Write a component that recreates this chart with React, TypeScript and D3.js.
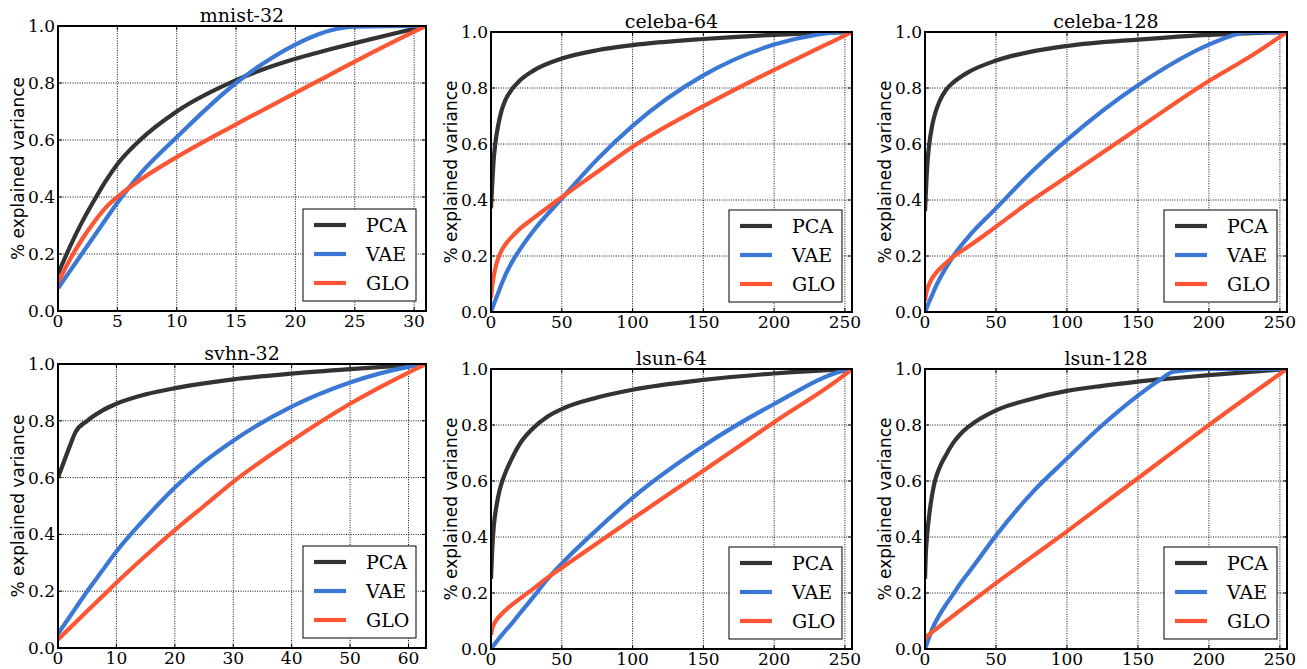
import React, { useEffect } from "react";
import * as d3 from "d3";

// ---- data ----
const seriesNames = ["PCA", "VAE", "GLO"];
const seriesColors = ["#333333", "#3b78d6", "#fc5634"];
const yTicks = [0.0, 0.2, 0.4, 0.6, 0.8, 1.0];

const mnistX = [0, 1, 2, 3, 4, 5, 7, 10, 15, 20, 22, 23, 25, 30, 31];
const mnistPCA = [0.13, 0.225, 0.31, 0.385, 0.455, 0.515, 0.603, 0.7, 0.81, 0.885, 0.908, 0.919, 0.94, 0.99, 1.0];
const mnistVAE = [0.08, 0.14, 0.2, 0.26, 0.32, 0.38, 0.485, 0.61, 0.8, 0.935, 0.972, 0.985, 0.998, 1.0, 1.0];
const mnistGLO = [0.1, 0.18, 0.25, 0.31, 0.362, 0.4, 0.462, 0.54, 0.655, 0.765, 0.809, 0.831, 0.875, 0.98, 1.0];

const celeba64X = [0, 1, 2, 3, 5, 7.5, 10, 15, 20, 30, 50, 75, 100, 150, 200, 230, 240, 255];
const celeba64PCA = [0.37, 0.47, 0.55, 0.6, 0.665, 0.72, 0.755, 0.797, 0.825, 0.862, 0.905, 0.935, 0.953, 0.975, 0.99, 0.996, 0.998, 1.0];
const celeba64VAE = [0.0, 0.014, 0.028, 0.041, 0.067, 0.1, 0.13, 0.18, 0.22, 0.29, 0.405, 0.545, 0.665, 0.845, 0.955, 0.99, 0.997, 1.0];
const celeba64GLO = [0.05, 0.1, 0.13, 0.155, 0.19, 0.22, 0.24, 0.27, 0.295, 0.335, 0.41, 0.5, 0.59, 0.735, 0.865, 0.939, 0.963, 1.0];

const celeba128X = [0, 1, 2, 3, 5, 7.5, 10, 15, 20, 30, 50, 75, 100, 150, 200, 220, 225, 255];
const celeba128PCA = [0.36, 0.47, 0.55, 0.6, 0.665, 0.715, 0.75, 0.795, 0.82, 0.855, 0.898, 0.93, 0.95, 0.973, 0.99, 0.994, 0.995, 1.0];
const celeba128VAE = [0.0, 0.012, 0.025, 0.037, 0.06, 0.09, 0.115, 0.16, 0.2, 0.265, 0.37, 0.5, 0.615, 0.81, 0.955, 0.993, 0.999, 1.0];
const celeba128GLO = [0.04, 0.07, 0.088, 0.1, 0.12, 0.138, 0.152, 0.176, 0.198, 0.232, 0.305, 0.398, 0.483, 0.655, 0.825, 0.885, 0.9, 1.0];

const svhnX = [0, 1, 2, 3, 5, 7.5, 10, 15, 20, 25, 30, 40, 50, 60, 63];
const svhnPCA = [0.6, 0.655, 0.71, 0.76, 0.8, 0.835, 0.86, 0.893, 0.915, 0.932, 0.946, 0.966, 0.982, 0.996, 1.0];
const svhnVAE = [0.05, 0.08, 0.11, 0.14, 0.2, 0.27, 0.34, 0.458, 0.565, 0.655, 0.73, 0.85, 0.935, 0.99, 1.0];
const svhnGLO = [0.03, 0.05, 0.07, 0.09, 0.13, 0.18, 0.23, 0.325, 0.415, 0.5, 0.585, 0.73, 0.86, 0.97, 1.0];

const lsun64X = [0, 1, 2, 4, 6, 8, 11, 14, 20, 29, 40, 50, 75, 100, 150, 200, 250, 255];
const lsun64PCA = [0.25, 0.37, 0.44, 0.515, 0.565, 0.6, 0.64, 0.673, 0.73, 0.785, 0.83, 0.857, 0.898, 0.926, 0.961, 0.984, 0.999, 1.0];
const lsun64VAE = [0.0, 0.007, 0.014, 0.027, 0.04, 0.052, 0.07, 0.087, 0.125, 0.18, 0.25, 0.305, 0.427, 0.54, 0.725, 0.875, 0.995, 1.0];
const lsun64GLO = [0.05, 0.075, 0.088, 0.105, 0.117, 0.128, 0.142, 0.155, 0.178, 0.212, 0.255, 0.29, 0.378, 0.465, 0.637, 0.81, 0.98, 1.0];

const lsun128X = [0, 0.5, 1.4, 3, 5, 7, 10, 15, 20, 25, 31, 50, 75, 100, 125, 150, 165, 175, 200, 255];
const lsun128PCA = [0.25, 0.33, 0.4, 0.48, 0.55, 0.6, 0.645, 0.695, 0.737, 0.768, 0.795, 0.852, 0.893, 0.922, 0.94, 0.955, 0.963, 0.967, 0.978, 1.0];
const lsun128VAE = [0.0, 0.007, 0.02, 0.043, 0.07, 0.092, 0.12, 0.16, 0.197, 0.235, 0.275, 0.405, 0.556, 0.68, 0.8, 0.905, 0.96, 0.99, 1.0, 1.0];
const lsun128GLO = [0.03, 0.038, 0.045, 0.052, 0.06, 0.068, 0.08, 0.1, 0.119, 0.139, 0.162, 0.235, 0.328, 0.42, 0.515, 0.61, 0.667, 0.705, 0.8, 1.0];

const panels = [
  { title: "mnist-32", xMax: 31, xTicks: [0, 5, 10, 15, 20, 25, 30], x: mnistX, ys: [mnistPCA, mnistVAE, mnistGLO] },
  { title: "celeba-64", xMax: 255, xTicks: [0, 50, 100, 150, 200, 250], x: celeba64X, ys: [celeba64PCA, celeba64VAE, celeba64GLO] },
  { title: "celeba-128", xMax: 255, xTicks: [0, 50, 100, 150, 200, 250], x: celeba128X, ys: [celeba128PCA, celeba128VAE, celeba128GLO] },
  { title: "svhn-32", xMax: 63, xTicks: [0, 10, 20, 30, 40, 50, 60], x: svhnX, ys: [svhnPCA, svhnVAE, svhnGLO] },
  { title: "lsun-64", xMax: 255, xTicks: [0, 50, 100, 150, 200, 250], x: lsun64X, ys: [lsun64PCA, lsun64VAE, lsun64GLO] },
  { title: "lsun-128", xMax: 255, xTicks: [0, 50, 100, 150, 200, 250], x: lsun128X, ys: [lsun128PCA, lsun128VAE, lsun128GLO] },
];

// plot rectangles (left, top, right, bottom) in page pixels
const boxes = [
  [58, 26, 426, 311],
  [491, 32, 852, 312],
  [925, 32, 1287, 312],
  [58, 364, 426, 648],
  [491, 369, 852, 649],
  [925, 369, 1287, 649],
];

const serif = "'DejaVu Serif', serif";
const sans = "'DejaVu Sans', sans-serif";

function Panel({ p, box }: { p: (typeof panels)[number]; box: number[] }) {
  const [l, t, r, b] = box;
  const x = d3.scaleLinear().domain([0, p.xMax]).range([l, r]);
  const y = d3.scaleLinear().domain([0, 1]).range([b, t]);
  const line = d3
    .line<[number, number]>()
    .x((d) => x(d[0]))
    .y((d) => y(d[1]))
    .curve(d3.curveMonotoneX);

  const lgW = 113, lgH = 92;
  const lgX = r - 10 - lgW, lgY = b - 10 - lgH;
  const clipId = "clip-" + p.title;
  const grid = { stroke: "#111", strokeWidth: 1, strokeDasharray: "1,1.4" };

  return (
    <g>
      <defs>
        <clipPath id={clipId}>
          <rect x={l} y={t} width={r - l} height={b - t} />
        </clipPath>
      </defs>
      {/* grid */}
      {p.xTicks.map((v) => (
        <line key={"gx" + v} x1={x(v)} x2={x(v)} y1={t} y2={b} {...grid} />
      ))}
      {yTicks.map((v) => (
        <line key={"gy" + v} x1={l} x2={r} y1={y(v)} y2={y(v)} {...grid} />
      ))}
      {/* inward ticks */}
      {p.xTicks.map((v) => (
        <g key={"tx" + v}>
          <line x1={x(v)} x2={x(v)} y1={b} y2={b - 4} stroke="#000" />
          <line x1={x(v)} x2={x(v)} y1={t} y2={t + 4} stroke="#000" />
        </g>
      ))}
      {yTicks.map((v) => (
        <g key={"ty" + v}>
          <line x1={l} x2={l + 4} y1={y(v)} y2={y(v)} stroke="#000" />
          <line x1={r} x2={r - 4} y1={y(v)} y2={y(v)} stroke="#000" />
        </g>
      ))}
      {/* curves */}
      <g clipPath={`url(#${clipId})`}>
        {p.ys.map((ys, i) => (
          <path
            key={seriesNames[i]}
            d={line(p.x.map((xv, j) => [xv, ys[j]] as [number, number])) || ""}
            fill="none"
            stroke={seriesColors[i]}
            strokeWidth={4.2}
            strokeLinejoin="round"
          />
        ))}
      </g>
      {/* frame */}
      <rect x={l} y={t} width={r - l} height={b - t} fill="none" stroke="#000" strokeWidth={2} />
      {/* tick labels */}
      {p.xTicks.map((v) => (
        <text key={"lx" + v} x={x(v)} y={b + 16} textAnchor="middle" fontFamily={serif} fontSize={17}>
          {v}
        </text>
      ))}
      {yTicks.map((v) => (
        <text key={"ly" + v} x={l - 3} y={y(v) + 6} textAnchor="end" fontFamily={serif} fontSize={17}>
          {v.toFixed(1)}
        </text>
      ))}
      {/* title */}
      <text x={(l + r) / 2} y={t - 4} textAnchor="middle" fontFamily={serif} fontSize={19}>
        {p.title}
      </text>
      {/* y label */}
      <text
        transform={`translate(${l - 34},${(t + b) / 2}) rotate(-90)`}
        textAnchor="middle"
        fontFamily={sans}
        fontSize={17}
      >
        % explained variance
      </text>
      {/* legend */}
      <rect x={lgX} y={lgY} width={lgW} height={lgH} fill="#fff" stroke="#000" strokeWidth={1} />
      {seriesNames.map((s, i) => (
        <g key={"lg" + s}>
          <line x1={lgX + 11} x2={lgX + 43} y1={lgY + 16 + i * 29} y2={lgY + 16 + i * 29} stroke={seriesColors[i]} strokeWidth={4.2} />
          <text x={lgX + 63} y={lgY + 16 + i * 29 + 7} fontFamily={serif} fontSize={19}>
            {s}
          </text>
        </g>
      ))}
    </g>
  );
}

export default function App() {
  useEffect(() => {
    document.body.style.margin = "0";
  }, []);
  return (
    <svg width={1307} height={669} style={{ display: "block", background: "#fff" }}>
      {panels.map((p, i) => (
        <Panel key={p.title} p={p} box={boxes[i]} />
      ))}
    </svg>
  );
}
